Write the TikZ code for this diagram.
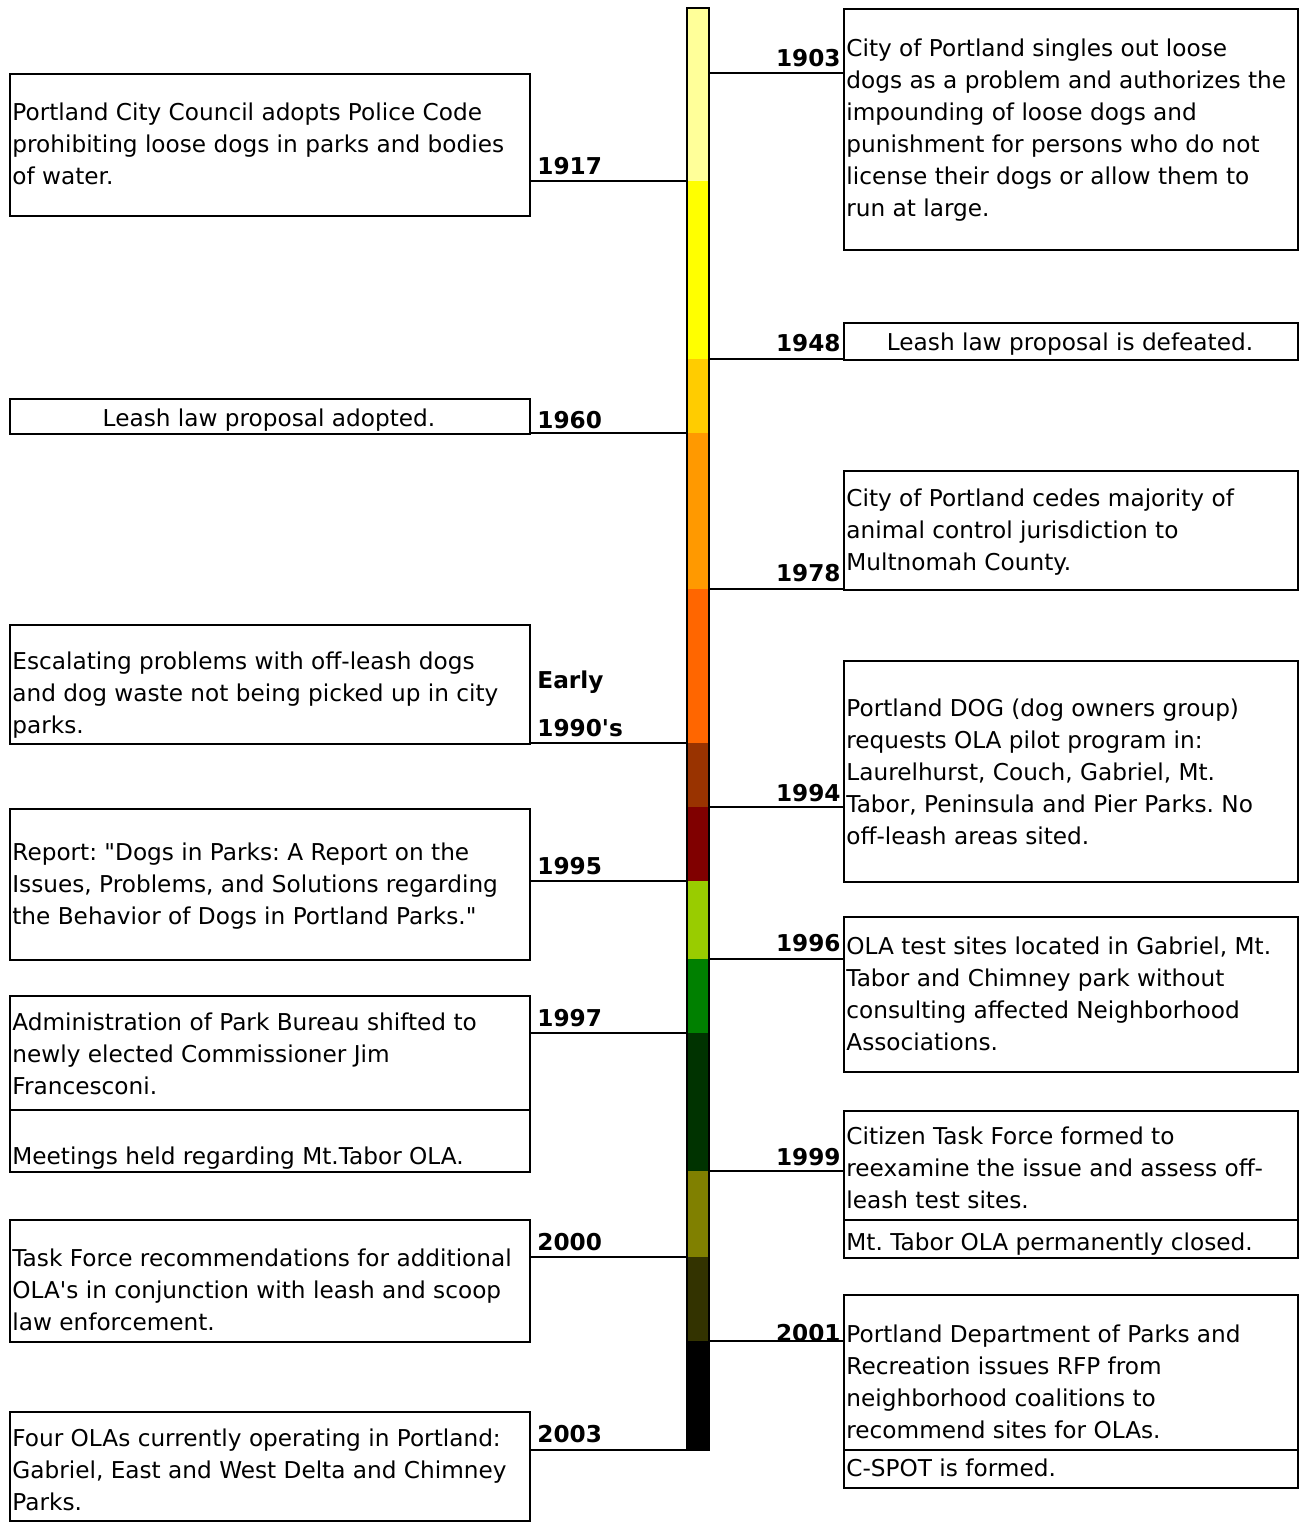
\documentclass[tikz,border=0pt]{standalone}
\usepackage{fontspec}
\setmainfont{DejaVu Sans}
\usepackage{tikz}

\definecolor{segA}{HTML}{FFFF99}
\definecolor{segB}{HTML}{FFFF00}
\definecolor{segC}{HTML}{FFCC00}
\definecolor{segD}{HTML}{FF9900}
\definecolor{segE}{HTML}{FF6600}
\definecolor{segF}{HTML}{993300}
\definecolor{segG}{HTML}{800000}
\definecolor{segH}{HTML}{99CC00}
\definecolor{segI}{HTML}{008000}
\definecolor{segJ}{HTML}{003300}
\definecolor{segK}{HTML}{808000}
\definecolor{segL}{HTML}{333300}
\definecolor{segM}{HTML}{000000}

\tikzset{
  evbox/.style={draw=black, line width=1pt, rectangle, inner sep=0pt, anchor=north west},
  lbox/.style={evbox, minimum width=260pt},
  rbox/.style={evbox, minimum width=227pt},
  evtext/.style={anchor=base west, inner sep=0pt, align=left, font=\fontsize{11.6}{16}\selectfont\frenchspacing},
  yearlbl/.style={inner sep=0pt, font=\fontsize{11.6}{16}\selectfont\bfseries},
  tick/.style={line width=1pt},
}

\begin{document}
\begin{tikzpicture}[x=0.5pt, y=-0.5pt]
  \useasboundingbox (0,0) rectangle (1299,1522);

  % colour bar
  \foreach \ya/\yb/\col in {8/181/segA, 181/359/segB, 359/433/segC, 433/589/segD,
      589/743/segE, 743/807/segF, 807/881/segG, 881/959/segH, 959/1033/segI,
      1033/1171/segJ, 1171/1257/segK, 1257/1341/segL, 1341/1450/segM}
    \fill[\col] (687,\ya) rectangle (709,\yb);
  \draw[line width=1pt] (687,8) rectangle (709,1450);

  % boxes on the right
  \node[rbox, minimum height=120.5pt] (b1903) at (843,8) {};
  \node[rbox, minimum height=18.5pt] (b1948) at (843,322) {};
  \node[rbox, minimum height=59.5pt] (b1978) at (843,470) {};
  \node[rbox, minimum height=110.5pt] (b1994) at (843,660) {};
  \node[rbox, minimum height=77.5pt] (b1996) at (843,916) {};
  \node[rbox, minimum height=54.5pt] (b1999) at (843,1110) {};
  \node[rbox, minimum height=19pt] (b1999t) at (843,1219) {};
  \node[rbox, minimum height=77.5pt] (b2001) at (843,1294) {};
  \node[rbox, minimum height=19pt] (b2001c) at (843,1449) {};

  % boxes on the left
  \node[lbox, minimum height=71pt] (b1917) at (9,73) {};
  \node[lbox, minimum height=17.5pt] (b1960) at (9,398) {};
  \node[lbox, minimum height=59.5pt] (b1990) at (9,624) {};
  \node[lbox, minimum height=75.5pt] (b1995) at (9,808) {};
  \node[lbox, minimum height=57pt] (b1997) at (9,995) {};
  \node[lbox, minimum height=31pt] (b1997m) at (9,1109) {};
  \node[lbox, minimum height=61pt] (b2000) at (9,1219) {};
  \node[lbox, minimum height=54.5pt] (b2003) at (9,1411) {};

  % texts (placed by the baseline of their last line)
  \node[evtext] (n1903) at (846,216) {City of Portland singles out loose\\dogs as a problem and authorizes the\\impounding of loose dogs and\\punishment for persons who do not\\license their dogs or allow them to\\run at large.};
  \node[evtext, anchor=base] (n1948) at (1070,350) {Leash law proposal is defeated.};
  \node[evtext] (n1978) at (846,570) {City of Portland cedes majority of\\animal control jurisdiction to\\Multnomah County.};
  \node[evtext] (n1994) at (846,844) {Portland DOG (dog owners group)\\requests OLA pilot program in:\\Laurelhurst, Couch, Gabriel, Mt.\\Tabor, Peninsula and Pier Parks. No\\off-leash areas sited.};
  \node[evtext] (n1996) at (846,1050) {OLA test sites located in Gabriel, Mt.\\Tabor and Chimney park without\\consulting affected Neighborhood\\Associations.};
  \node[evtext] (n1999) at (846,1208) {Citizen Task Force formed to\\reexamine the issue and assess off-\\leash test sites.};
  \node[evtext] (n1999t) at (846,1250) {Mt. Tabor OLA permanently closed.};
  \node[evtext] (n2001) at (846,1438) {Portland Department of Parks and\\Recreation issues RFP from\\neighborhood coalitions to\\recommend sites for OLAs.};
  \node[evtext] (n2001c) at (846,1476) {C-SPOT is formed.};

  \node[evtext] (n1917) at (12,184) {Portland City Council adopts Police Code\\prohibiting loose dogs in parks and bodies\\of water.};
  \node[evtext, anchor=base] (n1960) at (269,426) {Leash law proposal adopted.};
  \node[evtext] (n1990) at (12,733) {Escalating problems with off-leash dogs\\and dog waste not being picked up in city\\parks.};
  \node[evtext] (n1995) at (12,924) {Report: \textquotedbl Dogs in Parks: A Report on the\\Issues, Problems, and Solutions regarding\\the Behavior of Dogs in Portland Parks.\textquotedbl};
  \node[evtext] (n1997) at (12,1094) {Administration of Park Bureau shifted to\\newly elected Commissioner Jim\\Francesconi.};
  \node[evtext] (n1997m) at (12,1164) {Meetings held regarding Mt.Tabor OLA.};
  \node[evtext] (n2000) at (12,1330) {Task Force recommendations for additional\\OLA\textquotesingle s in conjunction with leash and scoop\\law enforcement.};
  \node[evtext] (n2003) at (12,1510) {Four OLAs currently operating in Portland:\\Gabriel, East and West Delta and Chimney\\Parks.};

  % years
  \node[yearlbl, anchor=base east] (y1903) at (841,66) {1903};
  \node[yearlbl, anchor=base east] (y1948) at (841,351) {1948};
  \node[yearlbl, anchor=base east] (y1978) at (841,581) {1978};
  \node[yearlbl, anchor=base east] (y1994) at (841,801) {1994};
  \node[yearlbl, anchor=base east] (y1996) at (841,951) {1996};
  \node[yearlbl, anchor=base east] (y1999) at (841,1165) {1999};
  \node[yearlbl, anchor=base east] (y2001) at (841,1341) {2001};
  \node[yearlbl, anchor=base west] (y1917) at (537,174) {1917};
  \node[yearlbl, anchor=base west] (y1960) at (537,428) {1960};
  \node[yearlbl, anchor=base west] (y1990a) at (537,688) {Early};
  \node[yearlbl, anchor=base west] (y1990b) at (537,736) {1990\textquotesingle s};
  \node[yearlbl, anchor=base west] (y1995) at (537,874) {1995};
  \node[yearlbl, anchor=base west] (y1997) at (537,1026) {1997};
  \node[yearlbl, anchor=base west] (y2000) at (537,1250) {2000};
  \node[yearlbl, anchor=base west] (y2003) at (537,1442) {2003};

  % connectors
  \foreach \nm/\yy in {1903/73, 1948/359, 1978/589, 1994/807, 1996/959, 1999/1171, 2001/1341} {
    \coordinate (t\nm) at (709,\yy);
    \draw[tick] (t\nm) -- (t\nm -| b\nm.west);
  }
  \foreach \nm/\yy in {1917/181, 1960/433, 1990/743, 1995/881, 1997/1033, 2000/1257, 2003/1450} {
    \coordinate (t\nm) at (687,\yy);
    \draw[tick] (t\nm) -- (t\nm -| b\nm.east);
  }
\end{tikzpicture}
\end{document}
